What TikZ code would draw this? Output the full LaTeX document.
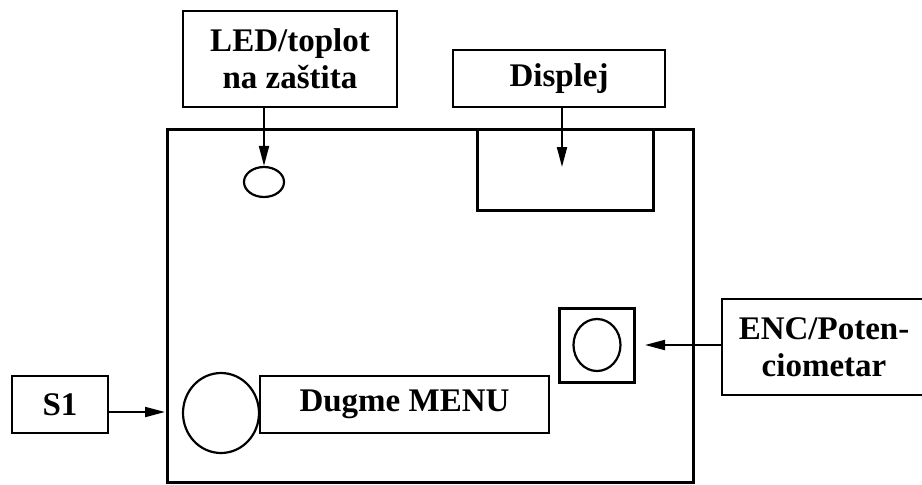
\documentclass[tikz,border=0pt]{standalone}
\usepackage{fontspec}
\setmainfont{Liberation Serif}
\usepackage{tikz}
\usetikzlibrary{arrows.meta,positioning,shapes.geometric}

\begin{document}
\begin{tikzpicture}[
    x=0.5pt, y=-0.5pt,
    labelbox/.style={draw, line width=1pt, align=center, inner sep=0pt,
        font=\fontsize{16.5}{18.5}\selectfont\bfseries},
    part/.style={draw, line width=1.5pt, inner sep=0pt},
    knob/.style={draw, ellipse, line width=1.1pt, inner sep=0pt},
    arrow/.style={-{Triangle[length=10pt,width=5pt]}, line width=1pt},
]
\useasboundingbox (0,0) rectangle (922,484);

% ---------- Board ----------
\node[part, minimum width=263pt, minimum height=176.5pt] (board) at (430,305.5) {};
\node[part, minimum width=88pt, minimum height=40.5pt] (screen) at (565,169.5) {};
\node[knob, minimum width=20pt, minimum height=15pt] (led) at (264,182) {};
\node[knob, minimum width=38pt, minimum height=40pt] (menu) at (221,413) {};
\node[part, minimum width=37.5pt, minimum height=37pt] (enc) at (596.5,345) {};
\node[knob, minimum width=23.5pt, minimum height=26pt] (encknob) at (597,345) {};

% ---------- Labels ----------
\node[labelbox, minimum width=107pt, minimum height=48pt] (ledbox) at (290,59) {LED/toplot\\na zaštita};
\node[labelbox, minimum width=106pt, minimum height=28.5pt] (displej) at (559,78.5) {Displej};
\node[labelbox, minimum width=48pt, minimum height=28.5pt] (s1) at (60,404.5) {S1};
\node[labelbox, minimum width=144.5pt, minimum height=28.5pt] (dugme) at (404.5,404.5) {Dugme MENU};
\node[labelbox, minimum width=102pt, minimum height=48pt] (encbox) at (824,347) {ENC/Poten-\\ciometar};

% ---------- Arrow ends ----------
\coordinate (disptip) at (562,167);
\coordinate (s1tip) at (165,412);
\coordinate (enctip) at (645,345);

% ---------- Arrows ----------
\draw[arrow] (led |- ledbox.south) -- (led.north);
\draw[arrow] (disptip |- displej.south) -- (disptip);
\draw[arrow] (s1.east |- s1tip) -- (s1tip);
\draw[arrow] (encbox.west |- enctip) -- (enctip);

\end{tikzpicture}
\end{document}
